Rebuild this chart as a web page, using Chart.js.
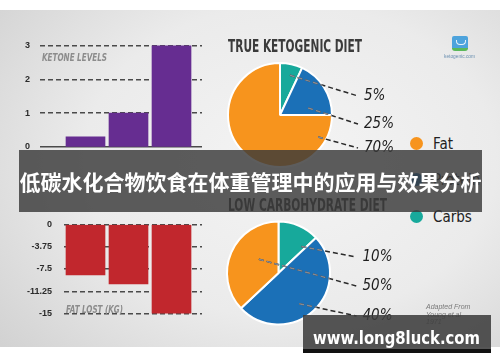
<!DOCTYPE html>
<html>
<head>
<meta charset="utf-8">
<script src="https://cdn.jsdelivr.net/npm/chart.js@4.4.1/dist/chart.umd.min.js"></script>
<style>
  html, body { margin: 0; padding: 0; background: #fff; }
  #stage { position: relative; width: 500px; height: 362px; overflow: hidden; }
  #bg {
    position: absolute; left: 0; top: 10px; width: 500px; height: 337px;
    background: radial-gradient(ellipse 75% 85% at 58% 45%, #f4f4f4 0%, #ebebeb 55%, #d2d2d2 100%);
  }
  canvas { position: absolute; }
  .fit { position: absolute; white-space: nowrap; transform-origin: 0 0; line-height: 1; }
  .title { font: bold 18px "DejaVu Sans Condensed", "Liberation Sans Narrow", sans-serif; color: #3b3b3b; }
  .axisTitle { font: italic bold 11px "DejaVu Sans Condensed", "Liberation Sans Narrow", sans-serif; color: #8c8c8c; }
  .legend { position: absolute; left: 410px; font: 15px "DejaVu Sans Condensed", "Liberation Sans Narrow", sans-serif; color: #222; }
  .legend i { position: absolute; left: 0; top: 0; width: 13px; height: 13px; border-radius: 50%; }
  .legend span { position: absolute; left: 23px; top: -2px; white-space: nowrap; }
  #banner {
    position: absolute; left: 19px; top: 150px; width: 463px; height: 62px;
    background: rgba(57, 57, 57, 0.82); color: #fff; text-align: center;
    font: bold 21px "Noto Sans CJK SC", sans-serif; line-height: 62px; white-space: nowrap;
  }
  #wm { position: absolute; left: 303px; top: 315px; width: 188px; height: 34px; background: rgba(62, 62, 62, 0.88); }
  #wmBar { position: absolute; left: 303px; top: 349px; width: 188px; height: 4px; background: #111; }
  #wmText { font: bold 17px "DejaVu Sans", sans-serif; color: #fff; }
  #source { position: absolute; left: 426px; top: 303px; font: italic 7px "Liberation Sans", sans-serif; line-height: 7.5px; color: #7a7a7a; }
</style>
</head>
<body>
<div id="stage">
  <div id="bg"></div>

  <canvas id="ketoneChart" width="205" height="147" style="left:0;top:30px"></canvas>
  <canvas id="fatChart" width="205" height="124" style="left:0;top:207px"></canvas>
  <canvas id="pieKeto" width="185" height="120" style="left:215px;top:55px"></canvas>
  <canvas id="pieLowCarb" width="185" height="122" style="left:215px;top:213px"></canvas>

  <div class="fit axisTitle" id="ketoneTitle" style="left:42px;top:51px">KETONE LEVELS</div>
  <div class="fit axisTitle" id="fatTitle" style="left:66px;top:303px">FAT LOST (KG)</div>
  <div class="fit title" id="ketoTitle" style="left:228px;top:35px">TRUE KETOGENIC DIET</div>
  <div class="fit title" id="lowCarbTitle" style="left:228px;top:194px">LOW CARBOHYDRATE DIET</div>

  <div id="legend"></div>

  <!-- petit logo ketogenic.com -->
  <div style="position:absolute;left:452px;top:36px;width:16px;height:13px;background:#4da3dc;border-radius:2px 2px 0 0"></div>
  <div style="position:absolute;left:456px;top:40px;width:8px;height:4px;border:1px solid #e8f3fb;border-top:none;border-radius:0 0 4px 4px"></div>
  <div style="position:absolute;left:452px;top:48px;width:16px;height:3px;background:#5bb85a;border-radius:0 0 3px 3px"></div>
  <div class="fit" id="logoText" style="left:444px;top:53px;font:5px sans-serif;color:#6a8fb0">ketogenic.com</div>

  <div id="source">Adapted From<br>Young et al<br>1971</div>

  <div id="banner">低碳水化合物饮食在体重管理中的应用与效果分析</div>

  <div id="wm"></div>
  <div id="wmBar"></div>
  <div class="fit" id="wmText" style="left:313px;top:328px">www.long8luck.com</div>
</div>

<script>
// ===== data =====
const carbIntake = ["1000", "600", "300"];
const ketoneLevels = [0.3, 1, 3];
const fatLost = [-8.5, -10, -15];
const fatTicks = [0, -3.75, -7.5, -11.25, -15];

const macroNames = ["Carbs", "Protein", "Fat"];
const ketoShares = [7, 18, 75];
const lowCarbShares = [13, 50, 37];
const ketoLabels = ["5%", "25%", "70%"];
const lowCarbLabels = ["10%", "50%", "40%"];

const colors = {
  purple: "#662d91",
  red: "#c1272d",
  carbs: "#17a99b",
  protein: "#1b70b7",
  fat: "#f7941d",
  grid: "#4a4a4a",
};

const tickFont = { family: "Liberation Sans, Arial, sans-serif", size: 9, weight: "bold" };

// =========================
// Bar charts
// =========================

new Chart(document.getElementById("ketoneChart"), {
  type: "bar",
  data: {
    datasets: [{
      data: ketoneLevels.map((v, i) => ({ x: i + 1, y: v })),
      backgroundColor: colors.purple,
      barThickness: 39,
    }],
  },
  options: {
    responsive: false,
    animation: false,
    layout: { padding: { top: 11, right: 3, left: 0, bottom: 0 } },
    plugins: { legend: { display: false }, tooltip: { enabled: false } },
    scales: {
      x: {
        type: "linear",
        offset: false,
        min: -0.058,
        max: 3.709,
        afterBuildTicks: s => { s.ticks = carbIntake.map((c, i) => ({ value: i + 1 })); },
        afterFit: s => { s.height = 30; },
        ticks: { callback: (v, i) => carbIntake[i], padding: 22, color: "#3a3a3a", font: { size: 8, weight: "bold" } },
        grid: { display: false },
        border: { display: false },
      },
      y: {
        min: 0,
        max: 3,
        afterFit: s => { s.width = 40; },
        ticks: { stepSize: 1, padding: 10, color: "#2b2b2b", font: tickFont },
        grid: { color: colors.grid, lineWidth: 1.4, drawTicks: false },
        // la ligne du zéro est pleine
        border: { display: false, dash: ctx => (ctx.tick && ctx.tick.value === 0 ? [] : [5, 3]) },
      },
    },
  },
});

new Chart(document.getElementById("fatChart"), {
  type: "bar",
  data: {
    datasets: [{
      data: fatLost.map((v, i) => ({ x: i + 1, y: v })),
      backgroundColor: colors.red,
      barThickness: 39,
    }],
  },
  options: {
    responsive: false,
    animation: false,
    layout: { padding: { top: 8, right: 3, left: 0, bottom: 8 } },
    plugins: { legend: { display: false }, tooltip: { enabled: false } },
    scales: {
      x: { type: "linear", offset: false, min: 0.5, max: 3.709, display: false },
      y: {
        min: -15,
        max: 0,
        afterFit: s => { s.width = 64; },
        afterBuildTicks: s => { s.ticks = fatTicks.map(v => ({ value: v })); },
        ticks: { callback: v => String(v), padding: 12, color: "#2b2b2b", font: tickFont },
        grid: { color: colors.grid, lineWidth: 1.4, drawTicks: false },
        border: { display: false, dash: [5, 3] },
      },
    },
  },
});

// =========================
// Pies + leader lines
// =========================

const leaderPlugin = {
  id: "leaders",
  afterDatasetsDraw(chart, args, opts) {
    const arc = chart.getDatasetMeta(0).data[0];
    const { x, y, outerRadius } = arc;
    const ctx = chart.ctx;
    opts.items.forEach((it, i) => {
      const a = (it.angle - 90) * Math.PI / 180;
      const sx = x + Math.cos(a) * it.r;
      const sy = y + Math.sin(a) * it.r;
      const ex = x + 78;
      const ey = y + it.dy;
      ctx.save();
      ctx.setLineDash([5, 3]);
      ctx.lineWidth = 1.5;
      ctx.strokeStyle = "#2a2a2a";
      ctx.beginPath();
      ctx.moveTo(sx, sy);
      ctx.lineTo(ex, ey);
      ctx.stroke();
      // partie dans le camembert : plus claire
      ctx.beginPath();
      ctx.arc(x, y, outerRadius, 0, Math.PI * 2);
      ctx.clip();
      ctx.strokeStyle = "#858a94";
      ctx.beginPath();
      ctx.moveTo(sx, sy);
      ctx.lineTo(ex, ey);
      ctx.stroke();
      ctx.restore();

      ctx.save();
      ctx.font = "italic 15px 'Liberation Sans Narrow', 'DejaVu Sans Condensed', sans-serif";
      ctx.fillStyle = "#1e1e1e";
      ctx.textBaseline = "middle";
      ctx.fillText(opts.labels[i], x + 84, ey);
      ctx.restore();
    });
  },
};

function makePie(id, shares, labels, padding, items) {
  return new Chart(document.getElementById(id), {
    type: "pie",
    data: {
      labels: macroNames,
      datasets: [{
        data: shares,
        backgroundColor: [colors.carbs, colors.protein, colors.fat],
        borderColor: "#ffffff",
        borderWidth: 2,
      }],
    },
    options: {
      responsive: false,
      animation: false,
      layout: { padding },
      plugins: {
        legend: { display: false },
        tooltip: { enabled: false },
        leaders: { labels, items },
      },
    },
    plugins: [leaderPlugin],
  });
}

makePie("pieKeto", ketoShares, ketoLabels, { left: 12, right: 67, top: 7, bottom: 7 }, [
  { angle: 14, r: 41, dy: -19 },
  { angle: 76, r: 29, dy: 9 },
  { angle: 120, r: 44, dy: 33 },
]);

makePie("pieLowCarb", lowCarbShares, lowCarbLabels, { left: 11, right: 69, top: 7, bottom: 9 }, [
  { angle: 41, r: 35, dy: -16 },
  { angle: 305, r: 24, dy: 13 },
  { angle: 146, r: 37, dy: 43 },
]);

// =========================
// Legend + text fitting
// =========================

const legendEl = document.getElementById("legend");
const legendColors = [colors.fat, colors.protein, colors.carbs];
const legendNames = ["Fat", "Protein", "Carbs"];
const legendTops = [137, 173, 210];
legendNames.forEach((n, i) => {
  const d = document.createElement("div");
  d.className = "legend";
  d.style.top = legendTops[i] + "px";
  d.innerHTML = `<i style="background:${legendColors[i]}"></i><span>${n}</span>`;
  legendEl.appendChild(d);
});

function fitWidth(id, w) {
  const el = document.getElementById(id);
  const r = el.getBoundingClientRect().width;
  el.style.transform = `scaleX(${w / r})`;
}
fitWidth("ketoTitle", 134);
fitWidth("lowCarbTitle", 159);
fitWidth("ketoneTitle", 65);
fitWidth("fatTitle", 57);
fitWidth("wmText", 167);
fitWidth("logoText", 31);
</script>
</body>
</html>
